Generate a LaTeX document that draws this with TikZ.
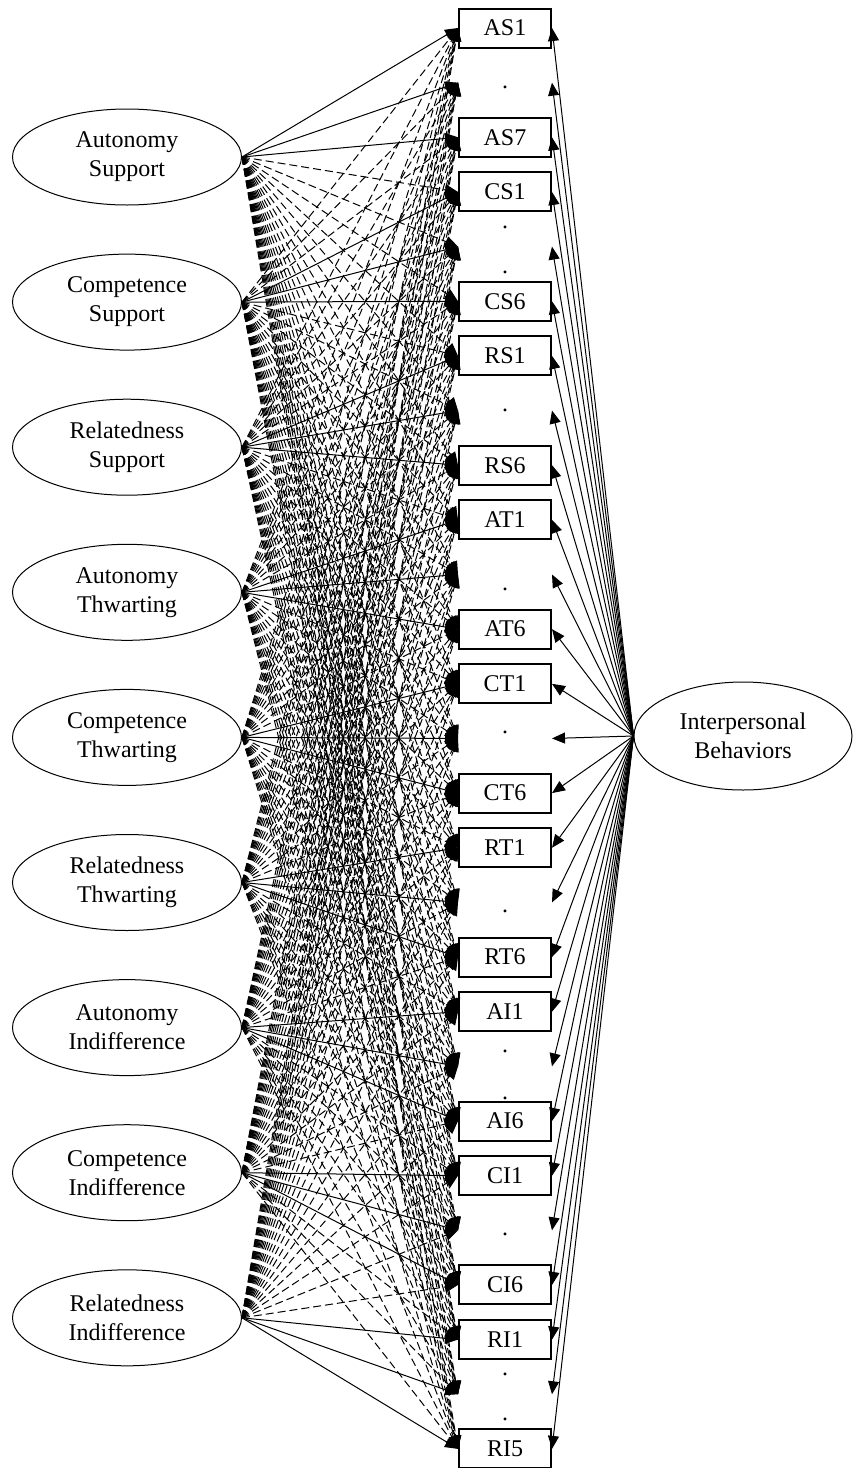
\documentclass[tikz,border=0pt]{standalone}
\usepackage{fontspec}
\setmainfont{Liberation Serif}
\usetikzlibrary{arrows.meta,shapes.geometric}

\begin{document}
\begin{tikzpicture}
  [x=0.5pt,y=-0.5pt,font=\fontsize{12}{14.5}\selectfont,
   factor/.style={ellipse,draw,line width=0.5pt,minimum width=114.5pt,minimum height=48pt,inner sep=0pt,align=center},
   item/.style={rectangle,draw,line width=1pt,minimum width=46pt,minimum height=19.5pt,inner sep=0pt},
   gap/.style={item,draw=none},
   load/.style={line width=0.5pt,-{Triangle[length=6.5pt,width=5.5pt]}},
   cross/.style={load,dash pattern=on 4pt off 2pt}]
  \useasboundingbox (0,0) rectangle (854,1468);
  \def\rows{AS1,ASd,AS7,CS1,CSd,CS6,RS1,RSd,RS6,AT1,ATd,AT6,CT1,CTd,CT6,RT1,RTd,RT6,AI1,AId,AI6,CI1,CId,CI6,RI1,RId,RI5}
  \def\factors{nAS,nCS,nRS,nAT,nCT,nRT,nAI,nCI,nRI}

  % latent factors
  \foreach \nm/\a/\b [count=\k from 0] in {nAS/Autonomy/Support,nCS/Competence/Support,nRS/Relatedness/Support,
      nAT/Autonomy/Thwarting,nCT/Competence/Thwarting,nRT/Relatedness/Thwarting,
      nAI/Autonomy/Indifference,nCI/Competence/Indifference,nRI/Relatedness/Indifference}
    \node[factor] (\nm) at (127,{157+145.1*\k}) {\a\\\b};
  \node[factor,minimum width=109pt,minimum height=54pt] (nIB) at (743,736) {Interpersonal\\Behaviors};

  % indicators
  \foreach \r/\sty/\txt [count=\j from 0] in {AS1/item/AS1,ASd/gap/{},AS7/item/AS7,
      CS1/item/CS1,CSd/gap/{},CS6/item/CS6,RS1/item/RS1,RSd/gap/{},RS6/item/RS6,
      AT1/item/AT1,ATd/gap/{},AT6/item/AT6,CT1/item/CT1,CTd/gap/{},CT6/item/CT6,
      RT1/item/RT1,RTd/gap/{},RT6/item/RT6,AI1/item/AI1,AId/gap/{},AI6/item/AI6,
      CI1/item/CI1,CId/gap/{},CI6/item/CI6,RI1/item/RI1,RId/gap/{},RI5/item/RI5}
    \node[\sty] (\r) at (505,{28+54.65*\j}) {\txt};

  % dots
  \foreach \r/\dy in {ASd/5,CSd/-19,CSd/26,RSd/0,ATd/15,CTd/-6,RTd/9,AId/-15,AId/32,CId/4,RId/-20,RId/25}
    \node[inner sep=0pt] at ([yshift={-0.5pt*(\dy)}]\r.center) {.};

  % loadings
  \foreach \f [count=\k from 0] in \factors
    \foreach \r [count=\j from 0] in \rows {
      \pgfmathtruncatemacro\g{\j/3}
      \ifnum\g=\k \draw[load] (\f.east) -- (\r.west);
      \else \draw[cross] (\f.east) -- (\r.west); \fi
    }
  \foreach \r in \rows
    \draw[load] (nIB.west) -- (\r.east);
\end{tikzpicture}
\end{document}
